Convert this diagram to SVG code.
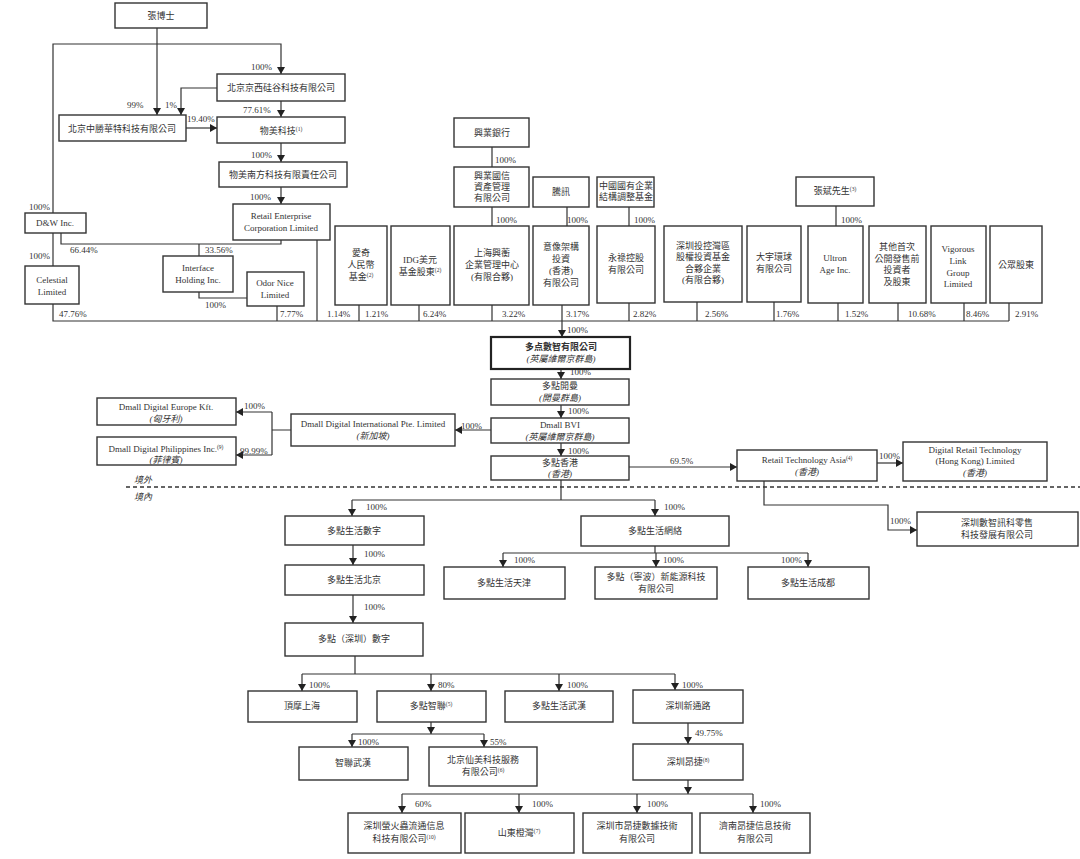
<svg xmlns="http://www.w3.org/2000/svg" width="1080" height="859" viewBox="0 0 1080 859">
<style>
.b{fill:#fff;stroke:#333;stroke-width:1.4}
.bb{fill:#fff;stroke:#222;stroke-width:2.2}
.t{font-family:"Liberation Serif","Noto Sans CJK TC",serif;font-size:9px;fill:#333;text-anchor:middle}
.p{font-family:"Liberation Serif","Noto Sans CJK TC",serif;font-size:9px;fill:#333}
.i{font-style:italic}
.l{fill:none;stroke:#333;stroke-width:1.2}
.a{fill:none;stroke:#333;stroke-width:1.2;marker-end:url(#ah)}
.d{fill:none;stroke:#333;stroke-width:1.4;stroke-dasharray:4 3}
.s{font-size:5.5px}
</style>
<defs>
<marker id="ah" markerWidth="7" markerHeight="8" refX="7" refY="4" orient="auto" markerUnits="userSpaceOnUse"><path d="M0,0 L7,4 L0,8 z" fill="#222"/></marker>
</defs>
<rect width="1080" height="859" fill="#fff"/>

<g id="connectors">
<path class="a" d="M157,28 V115"/>
<path class="a" d="M53,213 V44 H281 V74"/>
<path class="a" d="M217,88 H181 V115"/>
<path class="a" d="M186,128 H217"/>
<path class="a" d="M281,101 V117"/>
<path class="a" d="M281,143 V162"/>
<path class="a" d="M281,187 V204"/>
<path class="l" d="M53,233 V266"/>
<path class="l" d="M61,233 V244 H281 V240"/>
<path class="l" d="M199,244 V256"/>
<path class="l" d="M199,292 V298 H247"/>
<path class="l" d="M53,304 V321 H1009"/>
<path class="l" d="M277,306 V321 M317,240 V321 M359,305 V321 M419,305 V321 M492,305 V321 M562,305 V321 M629,303 V321 M697,302 V321 M774,302 V321 M838,303 V321 M898,303 V321 M964,303 V321 M1009,303 V321"/>
<path class="l" d="M492,147 V167 M492,207 V226 M567,207 V226 M629,207 V226 M836,206 V226"/>
<path class="a" d="M562,321 V337"/>
<path class="a" d="M561,369 V379"/>
<path class="a" d="M561,405 V418"/>
<path class="a" d="M561,443 V456"/>
<path class="a" d="M491,430 H455"/>
<path class="l" d="M291,430 H272 M272,412 V455"/>
<path class="a" d="M272,412 H236"/>
<path class="a" d="M272,455 H236"/>
<path class="a" d="M629,467 H737"/>
<path class="a" d="M877,463 H903"/>
<path class="a" d="M764,481 V505 H888 V530 H917"/>
<path class="d" d="M126,487 H1080"/>
<path class="l" d="M561,480 V500 M352,500 H655"/>
<path class="a" d="M352,500 V516"/>
<path class="a" d="M655,500 V516"/>
<path class="a" d="M353,545 V565"/>
<path class="l" d="M655,546 V553 M503,553 H808"/>
<path class="a" d="M503,553 V567"/>
<path class="a" d="M656,553 V567"/>
<path class="a" d="M808,553 V567"/>
<path class="a" d="M353,595 V623"/>
<path class="l" d="M355,656 V674 M302,674 H675"/>
<path class="a" d="M302,674 V691"/>
<path class="a" d="M431,674 V691"/>
<path class="a" d="M559,674 V691"/>
<path class="a" d="M675,674 V690"/>
<path class="a" d="M431,722 V734"/>
<path class="l" d="M352,734 H484"/>
<path class="a" d="M352,734 V747"/>
<path class="a" d="M484,734 V747"/>
<path class="a" d="M688,723 V744"/>
<path class="a" d="M688,780 V794"/>
<path class="l" d="M402,794 H753"/>
<path class="a" d="M402,794 V813"/>
<path class="a" d="M519,794 V813"/>
<path class="a" d="M637,794 V813"/>
<path class="a" d="M753,794 V813"/>
</g>

<g id="labels">
<text class="p" x="251" y="70">100%</text>
<text class="p" x="127" y="108">99%</text>
<text class="p" x="165" y="108">1%</text>
<text class="p" x="187" y="122">19.40%</text>
<text class="p" x="243" y="113">77.61%</text>
<text class="p" x="251" y="158">100%</text>
<text class="p" x="250" y="200">100%</text>
<text class="p" x="29" y="210">100%</text>
<text class="p" x="29" y="259">100%</text>
<text class="p" x="70" y="253">66.44%</text>
<text class="p" x="205" y="253">33.56%</text>
<text class="p" x="205" y="308">100%</text>
<text class="p" x="59" y="317">47.76%</text>
<text class="p" x="280" y="317">7.77%</text>
<text class="p" x="327" y="317">1.14%</text>
<text class="p" x="365" y="317">1.21%</text>
<text class="p" x="423" y="317">6.24%</text>
<text class="p" x="502" y="317">3.22%</text>
<text class="p" x="566" y="317">3.17%</text>
<text class="p" x="633" y="317">2.82%</text>
<text class="p" x="705" y="317">2.56%</text>
<text class="p" x="776" y="317">1.76%</text>
<text class="p" x="845" y="317">1.52%</text>
<text class="p" x="908" y="317">10.68%</text>
<text class="p" x="966" y="317">8.46%</text>
<text class="p" x="1015" y="317">2.91%</text>
<text class="p" x="495" y="163">100%</text>
<text class="p" x="496" y="223">100%</text>
<text class="p" x="567" y="223">100%</text>
<text class="p" x="634" y="223">100%</text>
<text class="p" x="841" y="223">100%</text>
<text class="p" x="567" y="333">100%</text>
<text class="p" x="570" y="375">100%</text>
<text class="p" x="568" y="414">100%</text>
<text class="p" x="568" y="454">100%</text>
<text class="p" x="461" y="429">100%</text>
<text class="p" x="244" y="409">100%</text>
<text class="p" x="240" y="454">99.99%</text>
<text class="p" x="670" y="464">69.5%</text>
<text class="p" x="879" y="459">100%</text>
<text class="p" x="890" y="524">100%</text>
<text class="p i" x="134" y="483" fill="#555">境外</text>
<text class="p i" x="134" y="500" fill="#555">境內</text>
<text class="p" x="366" y="510">100%</text>
<text class="p" x="664" y="510">100%</text>
<text class="p" x="364" y="557">100%</text>
<text class="p" x="514" y="563">100%</text>
<text class="p" x="663" y="563">100%</text>
<text class="p" x="781" y="563">100%</text>
<text class="p" x="364" y="610">100%</text>
<text class="p" x="309" y="688">100%</text>
<text class="p" x="438" y="688">80%</text>
<text class="p" x="567" y="688">100%</text>
<text class="p" x="682" y="688">100%</text>
<text class="p" x="358" y="745">100%</text>
<text class="p" x="490" y="745">55%</text>
<text class="p" x="695" y="736">49.75%</text>
<text class="p" x="415" y="807">60%</text>
<text class="p" x="532" y="807">100%</text>
<text class="p" x="647" y="807">100%</text>
<text class="p" x="760" y="807">100%</text>
</g>

<g id="n1"><rect class="b" x="115" y="3" width="92" height="25"/><text class="t" x="161" y="19">張博士</text></g>
<g id="n2"><rect class="b" x="217" y="74" width="128" height="27"/><text class="t" x="281" y="91">北京京西硅谷科技有限公司</text></g>
<g id="n3"><rect class="b" x="59" y="115" width="127" height="26"/><text class="t" x="122" y="132">北京中勝華特科技有限公司</text></g>
<g id="n4"><rect class="b" x="217" y="117" width="128" height="26"/><text class="t" x="281" y="134">物美科技<tspan class="s" dy="-3.5">(1)</tspan></text></g>
<g id="n5"><rect class="b" x="219" y="162" width="128" height="25"/><text class="t" x="283" y="178">物美南方科技有限責任公司</text></g>
<g id="n6"><rect class="b" x="233" y="204" width="97" height="36"/><text class="t" x="281" y="219">Retail Enterprise</text><text class="t" x="281" y="231">Corporation Limited</text></g>
<g id="n7"><rect class="b" x="25" y="213" width="61" height="20"/><text class="t" x="55" y="226">D&amp;W Inc.</text></g>
<g id="n8"><rect class="b" x="25" y="266" width="54" height="38"/><text class="t" x="52" y="283">Celestial</text><text class="t" x="52" y="295">Limited</text></g>
<g id="n9"><rect class="b" x="163" y="256" width="70" height="36"/><text class="t" x="198" y="271">Interface</text><text class="t" x="198" y="283">Holding Inc.</text></g>
<g id="n10"><rect class="b" x="247" y="272" width="57" height="34"/><text class="t" x="275" y="286">Odor Nice</text><text class="t" x="275" y="298">Limited</text></g>

<g id="n11"><rect class="b" x="335" y="226" width="52" height="79"/><text class="t" x="361" y="256">愛奇</text><text class="t" x="361" y="268">人民幣</text><text class="t" x="361" y="280">基金<tspan class="s" dy="-3.5">(2)</tspan></text></g>
<g id="n12"><rect class="b" x="391" y="226" width="59" height="79"/><text class="t" x="420" y="263">IDG美元</text><text class="t" x="420" y="275">基金股東<tspan class="s" dy="-3.5">(2)</tspan></text></g>
<g id="n13"><rect class="b" x="454" y="226" width="75" height="79"/><text class="t" x="492" y="256">上海興蘅</text><text class="t" x="492" y="268">企業管理中心</text><text class="t" x="492" y="280">(有限合夥)</text></g>
<g id="n14"><rect class="b" x="533" y="226" width="56" height="79"/><text class="t" x="561" y="250">意像架構</text><text class="t" x="561" y="262">投資</text><text class="t" x="561" y="274">(香港)</text><text class="t" x="561" y="286">有限公司</text></g>
<g id="n15"><rect class="b" x="597" y="226" width="58" height="77"/><text class="t" x="626" y="261">永祿控股</text><text class="t" x="626" y="273">有限公司</text></g>
<g id="n16"><rect class="b" x="664" y="226" width="78" height="76"/><text class="t" x="703" y="249">深圳投控灣區</text><text class="t" x="703" y="260">股權投資基金</text><text class="t" x="703" y="272">合夥企業</text><text class="t" x="703" y="283">(有限合夥)</text></g>
<g id="n17"><rect class="b" x="747" y="226" width="54" height="76"/><text class="t" x="774" y="260">大宇環球</text><text class="t" x="774" y="272">有限公司</text></g>
<g id="n18"><rect class="b" x="808" y="226" width="55" height="77"/><text class="t" x="835" y="261">Ultron</text><text class="t" x="835" y="273">Age Inc.</text></g>
<g id="n19"><rect class="b" x="869" y="226" width="57" height="77"/><text class="t" x="897" y="250">其他首次</text><text class="t" x="897" y="262">公開發售前</text><text class="t" x="897" y="273">投資者</text><text class="t" x="897" y="285">及股東</text></g>
<g id="n20"><rect class="b" x="931" y="226" width="55" height="77"/><text class="t" x="958" y="252">Vigorous</text><text class="t" x="958" y="264">Link</text><text class="t" x="958" y="276">Group</text><text class="t" x="958" y="287">Limited</text></g>
<g id="n21"><rect class="b" x="990" y="226" width="52" height="77"/><text class="t" x="1016" y="268">公眾股東</text></g>

<g id="n22"><rect class="b" x="454" y="118" width="75" height="29"/><text class="t" x="492" y="136">興業銀行</text></g>
<g id="n23"><rect class="b" x="454" y="167" width="75" height="40"/><text class="t" x="492" y="179">興業國信</text><text class="t" x="492" y="190">資產管理</text><text class="t" x="492" y="201">有限公司</text></g>
<g id="n24"><rect class="b" x="533" y="177" width="56" height="30"/><text class="t" x="561" y="195">騰訊</text></g>
<g id="n25"><rect class="b" x="597" y="177" width="57" height="30"/><text class="t" x="626" y="189">中國國有企業</text><text class="t" x="626" y="200">結構調整基金</text></g>
<g id="n26"><rect class="b" x="796" y="177" width="78" height="29"/><text class="t" x="835" y="194">張斌先生<tspan class="s" dy="-3.5">(3)</tspan></text></g>

<g id="n27"><rect class="bb" x="491" y="337" width="139" height="32"/><text class="t" x="561" y="350" font-weight="bold">多点數智有限公司</text><text class="t i" x="561" y="362">(英屬維爾京群島)</text></g>
<g id="n28"><rect class="b" x="491" y="379" width="138" height="26"/><text class="t" x="560" y="389">多點開曼</text><text class="t i" x="560" y="401">(開曼群島)</text></g>
<g id="n29"><rect class="b" x="491" y="418" width="138" height="25"/><text class="t" x="560" y="428">Dmall BVI</text><text class="t i" x="560" y="440">(英屬維爾京群島)</text></g>
<g id="n30"><rect class="b" x="491" y="456" width="138" height="24"/><text class="t" x="560" y="466">多點香港</text><text class="t i" x="560" y="477">(香港)</text></g>
<g id="n31"><rect class="b" x="291" y="414" width="164" height="32"/><text class="t" x="373" y="427">Dmall Digital International Pte. Limited</text><text class="t i" x="373" y="439">(新加坡)</text></g>
<g id="n32"><rect class="b" x="97" y="398" width="139" height="27"/><text class="t" x="166" y="410">Dmall Digital Europe Kft.</text><text class="t i" x="166" y="422">(匈牙利)</text></g>
<g id="n33"><rect class="b" x="97" y="437" width="139" height="28"/><text class="t" x="166" y="452">Dmall Digital Philippines Inc.<tspan class="s" dy="-3.5">(9)</tspan></text><text class="t i" x="166" y="463">(菲律賓)</text></g>
<g id="n34"><rect class="b" x="737" y="450" width="140" height="31"/><text class="t" x="807" y="463">Retail Technology Asia<tspan class="s" dy="-3.5">(4)</tspan></text><text class="t i" x="807" y="475">(香港)</text></g>
<g id="n35"><rect class="b" x="903" y="442" width="144" height="39"/><text class="t" x="975" y="453">Digital Retail Technology</text><text class="t" x="975" y="464">(Hong Kong) Limited</text><text class="t i" x="975" y="476">(香港)</text></g>
<g id="n36"><rect class="b" x="917" y="512" width="161" height="34"/><text class="t" x="997" y="526">深圳數智訊科零售</text><text class="t" x="997" y="538">科技發展有限公司</text></g>

<g id="n37"><rect class="b" x="285" y="516" width="139" height="29"/><text class="t" x="354" y="534">多點生活數字</text></g>
<g id="n38"><rect class="b" x="581" y="516" width="148" height="30"/><text class="t" x="655" y="534">多點生活網絡</text></g>
<g id="n39"><rect class="b" x="285" y="565" width="139" height="30"/><text class="t" x="354" y="583">多點生活北京</text></g>
<g id="n40"><rect class="b" x="444" y="567" width="121" height="32"/><text class="t" x="504" y="586">多點生活天津</text></g>
<g id="n41"><rect class="b" x="595" y="567" width="122" height="32"/><text class="t" x="656" y="580">多點（寧波）新能源科技</text><text class="t" x="656" y="592">有限公司</text></g>
<g id="n42"><rect class="b" x="748" y="567" width="121" height="32"/><text class="t" x="808" y="586">多點生活成都</text></g>
<g id="n43"><rect class="b" x="285" y="623" width="138" height="33"/><text class="t" x="354" y="642">多點（深圳）數字</text></g>
<g id="n44"><rect class="b" x="248" y="691" width="109" height="31"/><text class="t" x="302" y="709">頂摩上海</text></g>
<g id="n45"><rect class="b" x="377" y="691" width="109" height="31"/><text class="t" x="431" y="709">多點智聯<tspan class="s" dy="-3.5">(5)</tspan></text></g>
<g id="n46"><rect class="b" x="505" y="691" width="108" height="31"/><text class="t" x="559" y="709">多點生活武漢</text></g>
<g id="n47"><rect class="b" x="633" y="690" width="110" height="33"/><text class="t" x="688" y="709">深圳新通路</text></g>
<g id="n48"><rect class="b" x="299" y="747" width="109" height="33"/><text class="t" x="353" y="766">智聯武漢</text></g>
<g id="n49"><rect class="b" x="429" y="747" width="108" height="39"/><text class="t" x="483" y="763">北京仙美科技服務</text><text class="t" x="483" y="775">有限公司<tspan class="s" dy="-3.5">(6)</tspan></text></g>
<g id="n50"><rect class="b" x="633" y="744" width="110" height="36"/><text class="t" x="688" y="765">深圳昂捷<tspan class="s" dy="-3.5">(8)</tspan></text></g>
<g id="n51"><rect class="b" x="348" y="813" width="113" height="40"/><text class="t" x="404" y="829">深圳螢火蟲流通信息</text><text class="t" x="404" y="842">科技有限公司<tspan class="s" dy="-3.5">(10)</tspan></text></g>
<g id="n52"><rect class="b" x="465" y="813" width="109" height="40"/><text class="t" x="519" y="836">山東橙灣<tspan class="s" dy="-3.5">(7)</tspan></text></g>
<g id="n53"><rect class="b" x="583" y="813" width="109" height="40"/><text class="t" x="637" y="829">深圳市昂捷數據技術</text><text class="t" x="637" y="842">有限公司</text></g>
<g id="n54"><rect class="b" x="700" y="813" width="110" height="40"/><text class="t" x="755" y="829">濟南昂捷信息技術</text><text class="t" x="755" y="842">有限公司</text></g>
</svg>
